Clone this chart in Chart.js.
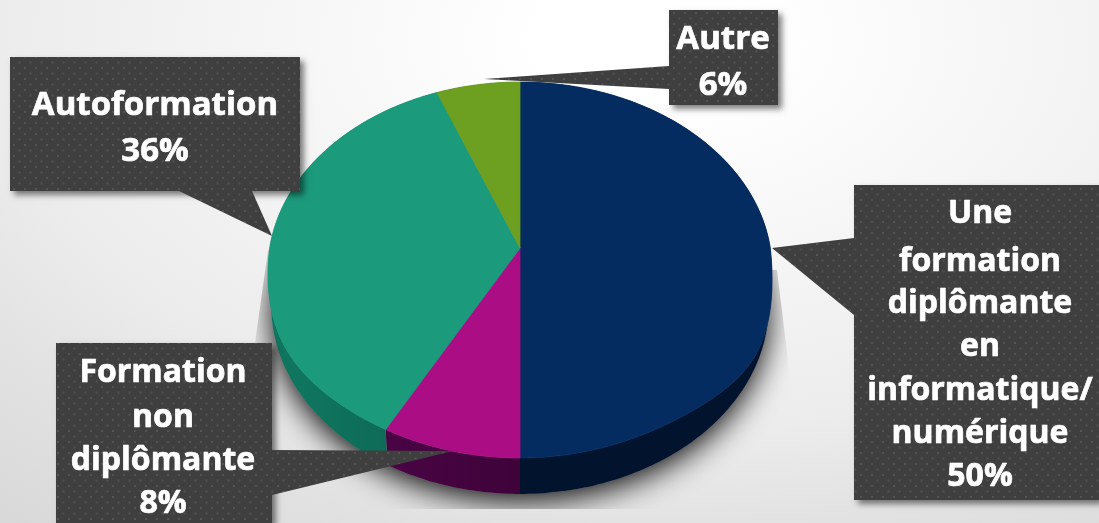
<!DOCTYPE html>
<html><head><meta charset="utf-8">
<style>html,body{margin:0;padding:0;background:#eee;overflow:hidden}#wrap{position:relative;width:1099px;height:523px}</style>
<script src="https://cdn.jsdelivr.net/npm/chart.js@4/dist/chart.umd.min.js"></script>
</head><body><div id="wrap"><canvas id="c" width="1099" height="523"></canvas></div>
<script>
const categories = [
  ['Une','formation','diplômante','en','informatique/','numérique'],
  ['Formation','non','diplômante'],
  ['Autoformation'],
  ['Autre']
];
const shareValues = [50, 8, 36, 6];
const topColors = ['#052c60', '#ab0e84', '#1b9a7c', '#6d9f20'];
const sideColors = ['#02183a', '#50044a', '#0f755f', '#3c5a10'];

// perspective disc parameters (layout only)
const topFace = {cx:520, y0:248, a:250.3, b:185.4, k:-0.117, fullR:80, fullL:40};
const botFace = {cx:520, y0:284, a:247, b:185.4, k:-0.117, fullR:0, fullL:0};
function project(f, ang){
  const u = Math.cos(ang), v = Math.sin(ang);
  const d = 1 + f.k * v;
  let y = f.y0 + f.b * v / d;
  if (v > 0) y += (u > 0 ? f.fullR : f.fullL) * Math.pow(Math.abs(u), 6) * v;
  return [f.cx + f.a * u / d, y];
}
function tracePath(ctx, f, s, e, back){
  const n = Math.max(8, Math.ceil(Math.abs(e - s) * 60));
  for (let i = 0; i <= n; i++){
    const t = back ? e - (e - s) * i / n : s + (e - s) * i / n;
    const p = project(f, t);
    ctx.lineTo(p[0], p[1]);
  }
}
class Arc3D extends Chart.ArcElement {
  draw(ctx){
    const {startAngle:s, endAngle:e} = this.getProps(['startAngle','endAngle']);
    const o = this.options;
    if (this.$phase === 'side'){
      ctx.beginPath();
      tracePath(ctx, topFace, s, e, false);
      tracePath(ctx, botFace, s, e, true);
      ctx.closePath();
      ctx.fillStyle = o.borderColor; ctx.fill();
      const g = ctx.createLinearGradient(300,0,520,0);
      g.addColorStop(0,'rgba(0,0,0,0)'); g.addColorStop(1,'rgba(0,0,0,0.22)');
      ctx.fillStyle = g; ctx.fill();
      return;
    }
    ctx.beginPath();
    ctx.moveTo(topFace.cx, topFace.y0);
    tracePath(ctx, topFace, s, e, false);
    ctx.closePath();
    ctx.fillStyle = o.backgroundColor; ctx.fill();
    ctx.strokeStyle = o.backgroundColor; ctx.lineWidth = 0.8; ctx.stroke();
  }
}
Arc3D.id = 'arc3d';
class Pie3D extends Chart.DoughnutController {
  draw(){
    const ctx = this.chart.ctx, els = this.getMeta().data;
    els.forEach(el => { el.$phase = 'side'; el.draw(ctx); });
    els.forEach(el => { el.$phase = 'top'; el.draw(ctx); });
  }
}
Pie3D.id = 'pie3d';
Pie3D.defaults = Object.assign({}, Chart.DoughnutController.defaults, {dataElementType:'arc3d'});
Pie3D.overrides = Chart.DoughnutController.overrides;
Chart.register(Arc3D, Pie3D);

function dots(ctx){
  const t = document.createElement('canvas'); t.width = 11; t.height = 11;
  const g = t.getContext('2d');
  g.fillStyle = '#3f3f3f'; g.fillRect(0,0,11,11);
  g.fillStyle = '#535353';
  g.fillRect(2,1,2,2); g.fillRect(7.5,6.5,2,2);
  return ctx.createPattern(t,'repeat');
}
const boxes = [
  {x:854,y:185,w:245,h:315,tail:[[854,238],[772,248],[854,315]],tx:980,base:[223,271,313,356,400,443,486],size:32},
  {x:56,y:343,w:216,h:180,tail:[[272,450],[453,451],[272,495]],tx:163,base:[382,427,470,513],size:32},
  {x:10,y:57,w:290,h:134,tail:[[179,191],[272,236],[252,191]],tx:155,base:[115,161],size:33},
  {x:669,y:10,w:109,h:95,tail:[[669,66],[484,79],[669,89]],tx:723,base:[49,95],size:33}
];
const bgPlugin = {
  id:'bg',
  beforeDraw(chart){
    const ctx = chart.ctx;
    ctx.save();
    ctx.translate(650,40); ctx.scale(1,0.6);
    const g = ctx.createRadialGradient(0,0,0,0,0,1040);
    g.addColorStop(0,'#ffffff'); g.addColorStop(0.1,'#ffffff');
    g.addColorStop(0.625,'#ececec'); g.addColorStop(0.79,'#e2e2e2'); g.addColorStop(1,'#d8d8d8');
    ctx.fillStyle = g; ctx.fillRect(-700,-200,1500,1100);
    ctx.restore();
    // soft cast shadow under the disc, cut by its reflection panel
    ctx.save();
    ctx.beginPath();
    ctx.moveTo(268,250); ctx.lineTo(255,343); ctx.lineTo(240,509); ctx.lineTo(800,509); ctx.lineTo(790,377); ctx.lineTo(777,270);
    ctx.closePath(); ctx.clip();
    ctx.shadowColor = 'rgba(0,0,0,0.95)'; ctx.shadowBlur = 30; ctx.shadowOffsetY = 7;
    ctx.fillStyle = '#999';
    ctx.beginPath();
    tracePath(ctx, botFace, 0, Math.PI*2, false);
    ctx.closePath(); ctx.fill();
    ctx.restore();
  }
};
const calloutPlugin = {
  id:'callouts',
  afterDatasetsDraw(chart){
    const ctx = chart.ctx, pat = dots(ctx);
    const vals = chart.data.datasets[0].data;
    boxes.forEach((b,i) => {
      ctx.save();
      ctx.shadowColor='rgba(0,0,0,0.5)'; ctx.shadowBlur=6; ctx.shadowOffsetX=4; ctx.shadowOffsetY=4;
      ctx.fillStyle='#3f3f3f'; ctx.fillRect(b.x,b.y,b.w,b.h);
      ctx.restore();
      ctx.fillStyle = pat;
      ctx.fillRect(b.x,b.y,b.w,b.h);
      ctx.beginPath(); ctx.moveTo(b.tail[0][0],b.tail[0][1]); ctx.lineTo(b.tail[1][0],b.tail[1][1]); ctx.lineTo(b.tail[2][0],b.tail[2][1]); ctx.closePath(); ctx.fill();
      ctx.fillStyle='#fff'; ctx.strokeStyle='#fff'; ctx.lineWidth=0.7; ctx.lineJoin='round';
      ctx.textAlign='center'; ctx.textBaseline='alphabetic';
      ctx.font='700 '+b.size+'px "Open Sans"';
      const lines = chart.data.labels[i].concat([vals[i]+'%']);
      lines.forEach((l,j)=>{ctx.fillText(l,b.tx,b.base[j]);ctx.strokeText(l,b.tx,b.base[j]);});
    });
  }
};
new Chart(document.getElementById('c'),{
  type:'pie3d',
  data:{labels:categories,datasets:[{data:shareValues,backgroundColor:topColors,borderColor:sideColors,borderWidth:0}]},
  options:{responsive:false,animation:false,rotation:0,circumference:360,
    layout:{padding:0},
    plugins:{legend:{display:false},tooltip:{enabled:false}}},
  plugins:[bgPlugin,calloutPlugin]
});
</script></body></html>
